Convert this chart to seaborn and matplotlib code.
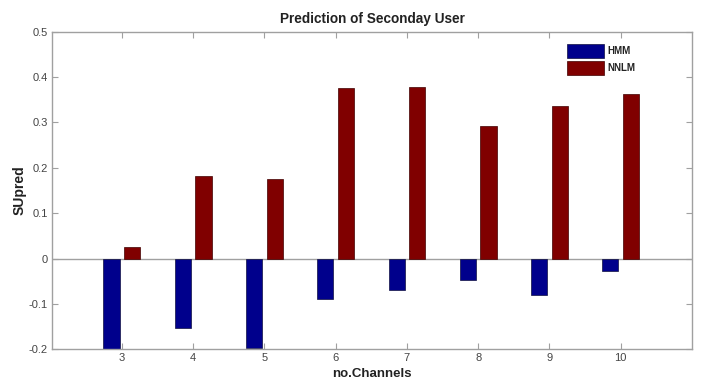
import matplotlib
matplotlib.use("Agg")
import matplotlib.pyplot as plt
import seaborn as sns
import pandas as pd

channels = [3, 4, 5, 6, 7, 8, 9, 10]
hmm = [-0.200, -0.153, -0.198, -0.090, -0.069, -0.048, -0.081, -0.028]
nnlm = [0.025, 0.182, 0.175, 0.377, 0.379, 0.292, 0.336, 0.363]
series = ["HMM", "NNLM"]
colors = ["#00008C", "#800000"]

df = pd.DataFrame({
    "channel": channels * 2,
    "value": hmm + nnlm,
    "model": [series[0]] * len(channels) + [series[1]] * len(channels),
})

sns.set_style("white")
plt.rcParams["font.family"] = ["Liberation Sans", "DejaVu Sans"]

fig = plt.figure(figsize=(7.01, 3.79), dpi=100)
ax = fig.add_axes([52 / 701, 1 - 349.3 / 379, (692 - 52) / 701, (349.3 - 31.7) / 379])

sns.barplot(data=df, x="channel", y="value", hue="model", palette=colors,
            saturation=1, native_scale=True, width=0.58, gap=0.22, ax=ax,
            edgecolor="#101040", linewidth=0.5, errorbar=None)
# darker outline for the red bars
for patch in ax.patches:
    fc = patch.get_facecolor()
    if fc[0] > fc[2]:
        patch.set_edgecolor("#400000")

ax.axhline(0, color="#a0a0a0", linewidth=1.0, zorder=0.5)

ax.set_xlim(2.02, 11)
ax.set_ylim(-0.2, 0.5)
ax.set_xticks(channels)
ax.set_xticklabels([str(c) for c in channels])
ax.set_yticks([-0.2, -0.1, 0, 0.1, 0.2, 0.3, 0.4, 0.5])
ax.set_yticklabels(["-0.2", "-0.1", "0", "0.1", "0.2", "0.3", "0.4", "0.5"])

for s in ax.spines.values():
    s.set_visible(True)
    s.set_color("#a0a0a0")
    s.set_linewidth(1.0)
ax.tick_params(direction="in", length=4, width=0.8, color="#a0a0a0",
               labelsize=8, labelcolor="#444444",
               top=True, right=True, bottom=True, left=True,
               labeltop=False, labelright=False, pad=3)

ax.set_title("Prediction of Seconday User", fontsize=9.8, fontweight="bold",
             color="#222222", pad=6)
ax.set_xlabel("no.Channels", fontsize=9.5, fontweight="bold", color="#222222", labelpad=3)
ax.set_ylabel("SUpred", fontsize=10, fontweight="bold", color="#222222", labelpad=1.5)

leg = ax.legend(loc="upper left", bbox_to_anchor=((567 - 52) / 640, (349.3 - 44) / 317.6),
                frameon=False, fontsize=7, handlelength=3.8, handleheight=1.8,
                handletextpad=0.4, labelspacing=0.35, borderpad=0, borderaxespad=0)
for t in leg.get_texts():
    t.set_fontweight("bold")
    t.set_color("#222222")

fig.savefig("out.png", dpi=100)
